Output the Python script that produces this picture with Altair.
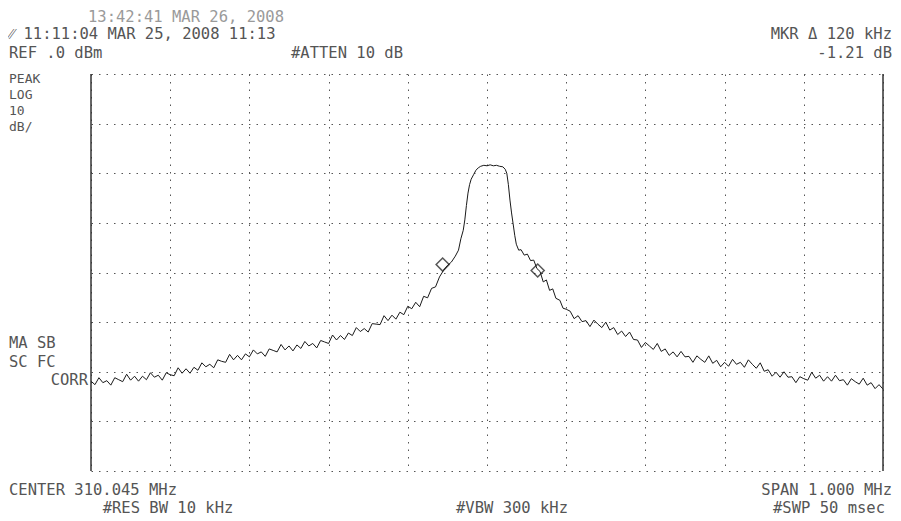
import altair as alt
import pandas as pd

# ---- data (offset from center 310.045 MHz, in kHz; level in dBm)
left_freq = list(range(-500, -99, 5))
left_level = [-61.9, -62.6, -61.2, -62.2, -61.8, -62.7, -61.2, -61.6, -62.0, -60.5,
              -61.7, -60.9, -61.9, -60.9, -61.6, -60.2, -61.1, -60.7, -61.7, -60.2,
              -60.6, -60.8, -59.2, -60.3, -59.4, -60.3, -59.1, -59.7, -58.2, -59.0,
              -58.5, -59.2, -57.6, -57.9, -58.1, -56.5, -57.6, -56.7, -57.6, -56.4,
              -57.0, -55.6, -56.4, -56.0, -56.9, -55.4, -55.7, -56.0, -54.5, -55.6,
              -54.8, -55.8, -54.6, -55.3, -53.9, -54.8, -54.3, -55.2, -53.7, -54.0,
              -54.3, -52.6, -53.6, -52.7, -53.5, -52.2, -52.7, -51.1, -51.9, -51.3,
              -52.0, -50.3, -50.4, -50.5, -48.7, -49.7, -48.6, -49.4, -48.0, -48.5,
              -46.8]
center_freq = [-95, -90, -85, -80, -75, -70, -65, -60, -55, -50, -45, -40, -36, -33, -30, -28,
               -26, -24, -22, -20, -17, -14, -11, -8, -4, 0, 4, 8, 12, 16, 20, 23, 25, 27, 29,
               31, 33, 35, 37, 40, 43, 47, 51, 55, 59, 63, 67, 71, 75, 79, 83, 87, 92, 96]
center_level = [-47.3, -46.0, -46.9, -44.8, -45.1, -43.2, -42.9, -40.9, -39.6, -38.6, -37.9,
                -36.7, -35.5, -33.2, -31.5, -29.4, -26.5, -24.0, -22.3, -21.2, -20.3, -19.4,
                -18.9, -18.6, -18.4, -18.5, -18.3, -18.5, -18.4, -18.6, -18.7, -19.2, -20.0,
                -22.3, -25.4, -28.0, -30.2, -32.5, -34.3, -35.5, -35.4, -36.5, -36.3, -37.6,
                -37.5, -39.2, -39.8, -41.9, -41.5, -43.6, -43.3, -45.2, -45.6, -47.2]
right_freq = list(range(100, 501, 5))
right_level = [-47.4,
               -47.8, -49.3, -48.7, -49.9, -49.7, -50.9, -49.6, -50.4, -51.1, -50.0,
               -51.6, -51.1, -52.5, -51.8, -52.9, -52.0, -53.5, -53.6, -55.1, -54.1,
               -54.8, -55.5, -54.3, -55.9, -55.4, -56.7, -56.0, -57.0, -55.9, -57.0,
               -56.9, -58.1, -56.8, -57.5, -58.1, -56.8, -58.3, -57.7, -59.0, -58.1,
               -58.9, -57.5, -58.5, -58.1, -59.1, -57.6, -58.5, -59.3, -58.2, -59.9,
               -59.6, -60.9, -60.1, -61.1, -60.0, -61.1, -61.0, -62.2, -61.0, -61.4,
               -61.7, -60.1, -61.3, -60.7, -61.9, -61.0, -61.9, -60.7, -61.8, -61.6,
               -62.7, -61.4, -62.0, -62.5, -61.3, -62.7, -62.2, -63.4, -62.6, -63.5]
freq_khz = left_freq + center_freq + right_freq
level_dbm = left_level + center_level + right_level
assert len(freq_khz) == len(level_dbm)

marker_freq = [-56, 64]
marker_level = [-38.4, -39.6]
x_grid = [-500, -400, -300, -200, -100, 0, 100, 200, 300, 400, 500]
y_grid = [-80, -70, -60, -50, -40, -30, -20, -10, 0]
frame_x = [-500, 500]

# annotation texts, (page x, page y) anchors
left_labels = ["⁄⁄ 11:11:04 MAR 25, 2008 11:13", "REF .0 dBm",
               "MA  SB", "SC  FC", "CENTER 310.045 MHz"]
left_x = [9, 9, 9, 9, 9]
left_y = [34, 53, 343, 362, 490]
stack_labels = ["PEAK", "LOG", "10", "dB/"]
stack_x = [9, 9, 9, 9]
stack_y = [79, 95, 111, 127]
center_labels = ["13:42:41 MAR 26, 2008", "#ATTEN 10 dB", "#RES BW 10 kHz", "#VBW 300 kHz"]
center_x = [186, 347, 168, 512]
center_y = [17, 53, 508, 508]
right_labels = ["MKR Δ 120 kHz", "-1.21 dB", "CORR", "SPAN 1.000 MHz", "#SWP 50 msec"]
right_x = [892, 892, 88, 892, 885]
right_y = [34, 53, 380, 490, 508]
faint_labels = ["13:42:41 MAR 26, 2008"]

W, H = 792, 397
LEFT, TOP = 83, 66  # padding -> plot origin at page (91, 74)
OX, OY = LEFT + 8, TOP + 8

trace = pd.DataFrame({"f": freq_khz, "dB": level_dbm})
marks = pd.DataFrame({"f": marker_freq, "dB": marker_level})
frame = pd.DataFrame({"f": frame_x})

xs = alt.Scale(domain=[-500, 500], nice=False, zero=False)
ys = alt.Scale(domain=[-80, 0], nice=False, zero=False)

grid_style = dict(labels=False, ticks=False, domain=False, title=None, grid=True,
                  gridDash=[1.5, 6], gridColor="#555555", gridWidth=1, gridOpacity=1)

line = alt.Chart(trace).mark_line(color="#1a1a1a", strokeWidth=1).encode(
    x=alt.X("f:Q", scale=xs, axis=alt.Axis(values=x_grid, **grid_style)),
    y=alt.Y("dB:Q", scale=ys, axis=alt.Axis(values=y_grid, **grid_style)),
)

frame_rules = alt.Chart(frame).mark_rule(color="#333333", strokeWidth=1.5).encode(
    x=alt.X("f:Q", scale=xs),
    y=alt.value(0),
    y2=alt.value(H),
)

diamonds = alt.Chart(marks).mark_point(shape="diamond", filled=False, size=170,
                                       color="#111111", strokeWidth=1.5).encode(
    x=alt.X("f:Q", scale=xs),
    y=alt.Y("dB:Q", scale=ys),
)


def text_layer(labels, xs_, ys_, align, size=15.5):
    df = pd.DataFrame({
        "t": labels,
        "px": [x - OX for x in xs_],
        "py": [y - OY for y in ys_],
        "c": ["#9a9a9a" if s in faint_labels else "#555555" for s in labels],
    })
    return alt.Chart(df).mark_text(font="DejaVu Sans Mono", fontSize=size, align=align,
                                   baseline="middle").encode(
        x=alt.X("px:Q", scale=None),
        y=alt.Y("py:Q", scale=None),
        text="t:N",
        color=alt.Color("c:N", scale=None),
    )


txt_l = text_layer(left_labels, left_x, left_y, "left")
txt_s = text_layer(stack_labels, stack_x, stack_y, "left", size=13)
txt_c = text_layer(center_labels, center_x, center_y, "center")
txt_r = text_layer(right_labels, right_x, right_y, "right")

chart = alt.layer(line, frame_rules, diamonds, txt_l, txt_s, txt_c, txt_r).properties(
    width=W, height=H,
    padding={"left": LEFT, "top": TOP, "right": 10, "bottom": 48},
    autosize=alt.AutoSizeParams(type="none"),
    background="white",
).configure_view(stroke=None)

chart.save("out.html", embed_options={"renderer": "svg", "actions": False})
